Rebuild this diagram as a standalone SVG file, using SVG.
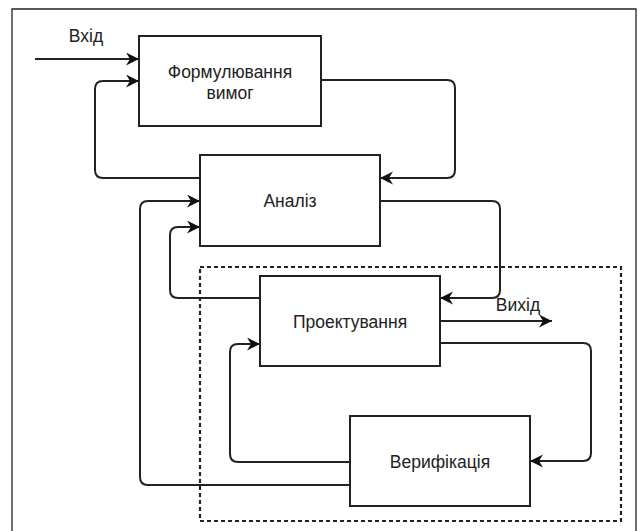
<svg xmlns="http://www.w3.org/2000/svg" width="638" height="531" viewBox="0 0 638 531">
<style>
.box{fill:#fff;stroke:#222;stroke-width:2}
.lbl{font-family:"Liberation Sans",Arial,Helvetica,sans-serif;font-size:17.5px;fill:#222;text-anchor:middle;dominant-baseline:central}
.c{fill:none;stroke:#222;stroke-width:2;marker-end:url(#arr)}
</style>
<defs>
<marker id="arr" markerUnits="userSpaceOnUse" markerWidth="16" markerHeight="14" refX="13" refY="6.5" orient="auto">
<path d="M0,0 L13,6.5 L0,13 L4,6.5 Z" fill="#111"/>
</marker>
</defs>
<rect width="638" height="531" fill="#fff"/>
<path d="M12,535 V9 H636 V535" fill="none" stroke="#222" stroke-width="1.3"/>
<rect id="scope" x="200" y="267" width="421" height="254" fill="none" stroke="#222" stroke-width="2.2" stroke-dasharray="4 3"/>
<g id="connectors">
<path class="c" d="M35,59 H139"/>
<path class="c" d="M200,178 H103 Q95,178 95,170 V89 Q95,81 103,81 H139"/>
<path class="c" d="M321,80 H447 Q455,80 455,88 V170 Q455,178 447,178 H380"/>
<path class="c" d="M380,201 H492 Q500,201 500,209 V290 Q500,298 492,298 H440"/>
<path class="c" d="M260,298 H178 Q170,298 170,290 V235 Q170,227 178,227 H200"/>
<path class="c" d="M350,485 H148 Q140,485 140,477 V209 Q140,201 148,201 H200"/>
<path class="c" d="M350,462 H238 Q230,462 230,454 V352 Q230,344 238,344 H260"/>
<path class="c" d="M440,321 H552"/>
<path class="c" d="M440,343 H583 Q591,343 591,351 V453 Q591,461 583,461 H530"/>
<text class="lbl" x="86" y="36">Вхід</text>
<text class="lbl" x="518" y="305">Вихід</text>
</g>
<g id="n1"><rect class="box" x="139" y="36" width="182" height="90"/><text class="lbl" x="230" y="72">Формулювання</text><text class="lbl" x="230" y="93">вимог</text></g>
<g id="n2"><rect class="box" x="200" y="155" width="180" height="91"/><text class="lbl" x="290" y="201">Аналіз</text></g>
<g id="n3"><rect class="box" x="260" y="276" width="180" height="90"/><text class="lbl" x="350" y="322">Проектування</text></g>
<g id="n4"><rect class="box" x="350" y="416" width="180" height="90"/><text class="lbl" x="440" y="462">Верифікація</text></g>
</svg>
